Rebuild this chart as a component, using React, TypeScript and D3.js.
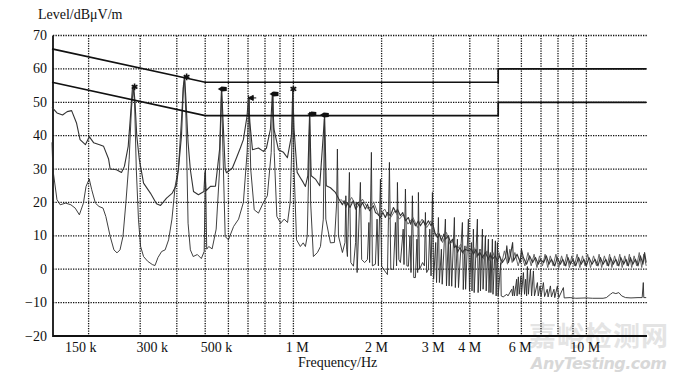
import React from "react";
import * as d3 from "d3";

// ---- data (frequency in kHz, level in dBµV/m) ----
const yTicks = [-20, -10, 0, 10, 20, 30, 40, 50, 60, 70];
const gridFreqs = [200, 300, 400, 500, 600, 700, 800, 900, 1000, 2000, 3000, 4000, 5000, 6000, 7000, 8000, 9000, 10000];
const xTickLabels = ["150 k", "300 k", "500 k", "1 M", "2 M", "3 M", "4 M", "6 M", "10 M"];
const xTickLabelAt = [188, 330, 546, 1030, 1920, 3000, 4000, 5940, 9900];

// limit lines
const limitQP: [number, number][] = [[150, 66], [500, 56], [5000, 56], [5000, 60], [16000, 60]];
const limitAV: [number, number][] = [[150, 56], [500, 46], [5000, 46], [5000, 50], [16000, 50]];

// upper (peak) trace
const traceUpper: [number, number][] = [
  [150, 48.5], [156, 46.8], [163, 46.2], [169, 47.2], [175, 47.5], [182, 43.7], [187, 38.8], [195, 37.3],
  [201, 39.7], [208, 37.9], [218, 37.3], [225, 36.8], [234, 33], [237, 30], [249, 29.8], [259, 29],
  [265, 30.8], [273, 36.8], [278, 46], [282, 54], [285, 55], [288, 50], [292, 40], [298, 32.8],
  [308, 25.8], [325, 22.8], [341, 19.6], [352, 19.1], [369, 21.3], [386, 22.8], [399, 25.3], [405, 29.8],
  [415, 40], [421, 54], [425, 58], [429, 52], [437, 38], [445, 29.8], [456, 23.3], [474, 22.3],
  [495, 23.3], [499, 29], [503, 23.5], [521, 24.8], [542, 24.9], [560, 36], [569, 54.5], [575, 45],
  [585, 30], [591, 28.9], [619, 30.3], [639, 33.3], [659, 36.3], [675, 38.8], [695, 46], [703, 52],
  [710, 44], [725, 35.8], [760, 36.3], [790, 35.3], [809, 36.3], [835, 42], [848, 53], [858, 42],
  [889, 35.8], [925, 35], [954, 33.4], [985, 40], [995, 54], [1005, 42], [1030, 29], [1056, 27.4],
  [1080, 26], [1099, 24.8], [1120, 28], [1136, 47], [1150, 28], [1189, 27], [1230, 25], [1278, 46],
  [1295, 25], [1338, 24.4], [1391, 23], [1430, 21], [1470, 19.3], [1490, 20.5], [1510, 18.5], [1529, 20],
  [1560, 18.5], [1600, 20.5], [1630, 18], [1654, 20], [1690, 18.5], [1720, 20], [1761, 18], [1790, 19.5],
  [1820, 17.5], [1875, 19], [1905, 17], [1940, 16.5], [1982, 15.5], [2020, 17], [2060, 15.5], [2094, 17],
  [2144, 16], [2195, 18.5], [2240, 17], [2265, 18], [2319, 16], [2360, 17], [2412, 14.5], [2469, 15.5],
  [2510, 13.5], [2548, 15], [2609, 13], [2671, 14.5], [2713, 13], [2780, 14.5], [2822, 13], [2889, 14.5],
  [2950, 13], [2982, 14], [3040, 11], [3101, 9.5], [3150, 10.5], [3200, 8.5], [3260, 10.5], [3302, 9],
  [3381, 10], [3435, 8], [3490, 9], [3544, 6.5], [3600, 7], [3629, 5], [3700, 6.5], [3774, 5],
  [3850, 6], [3956, 5.5], [4050, 6], [4115, 4.5], [4200, 6], [4246, 4], [4330, 5], [4417, 3.5],
  [4522, 5], [4629, 3], [4700, 4.5], [4777, 3], [4891, 4], [4969, 2.5], [5050, 4], [5168, 2],
  [5300, 3.5], [5350, 7], [5418, 2], [5500, 4], [5600, 8], [5635, 2.5], [5800, 4.5], [5950, 2],
  [6000, 6], [6095, 3.5], [6250, 1.5], [6400, 4], [6550, 2], [6700, 3.5], [6850, 1.5], [6966, 3],
  [7150, 2], [7300, 4], [7450, 1.5], [7600, 3], [7800, 1], [7950, 3.5], [8150, 1.5], [8300, 3],
  [8500, 1], [8650, 3.5], [8820, 1.5], [9000, 3], [9200, 1], [9400, 3.5], [9600, 1.5], [9800, 3],
  [10000, 1], [10200, 3.5], [10450, 1.5], [10700, 3], [10950, 1], [11160, 3.5], [11400, 1.5], [11650, 3],
  [11900, 1], [12080, 3.5], [12350, 1.5], [12600, 3], [12900, 1], [13100, 3.5], [13400, 1.5], [13650, 3],
  [13900, 1], [14130, 3.5], [14400, 1.5], [14700, 3], [15000, 1], [15290, 4], [15600, 1.5], [15800, 5],
  [16000, 2],
];

// second noise sweep of the upper band (grey hatched look above 1.4 MHz)
const traceUpperNoise: [number, number][] = [
  [1450, 21], [1520, 19], [1580, 21.5], [1650, 18.5], [1720, 21], [1800, 18], [1880, 20], [1960, 16],
  [2050, 18], [2130, 15], [2220, 17.5], [2300, 15], [2380, 16.5], [2460, 13.5], [2560, 15.5], [2650, 12.5],
  [2750, 15], [2850, 12.5], [2950, 14.5], [3050, 10], [3130, 11], [3230, 8], [3330, 11], [3420, 7.5],
  [3520, 8.5], [3620, 6], [3730, 7.5], [3820, 4.5], [3920, 7], [4020, 4.5], [4130, 6.5], [4230, 3.5],
  [4360, 6], [4470, 3], [4580, 5.5], [4680, 2.5], [4800, 5], [4920, 2], [5030, 5], [5130, 1.5],
  [5250, 5.5], [5380, 1.5], [5480, 6], [5580, 2], [5700, 5], [5850, 1], [6000, 4.5], [6170, 1],
  [6320, 5], [6480, 1], [6630, 4.5], [6780, 0.5], [6920, 4], [7080, 1], [7230, 4.5], [7380, 0.5],
  [7530, 4], [7700, 1], [7870, 4.5], [8050, 0.5], [8230, 4], [8400, 1], [8580, 4.5], [8750, 0.5],
  [8920, 4], [9100, 1], [9300, 4.5], [9500, 0.5], [9700, 4], [9900, 1], [10100, 4.5], [10330, 0.5],
  [10580, 4], [10830, 1], [11050, 4.5], [11280, 0.5], [11520, 4], [11780, 1], [12000, 4.5], [12220, 0.5],
  [12480, 4], [12750, 1], [13000, 4.5], [13250, 0.5], [13520, 4], [13780, 1], [14020, 4.5], [14280, 0.5],
  [14550, 4], [14850, 1], [15150, 5], [15450, 0.5], [15700, 4.5], [16000, 1],
];

// lower trace
const traceLower: [number, number][] = [
  [150, 38], [151, 30], [156, 20.8], [160, 19.3], [167, 19.8], [174, 19.3], [180, 18.3], [186, 16.3],
  [192, 19.8], [196, 24.8], [201, 27], [205, 23.8], [211, 19.8], [217, 18.8], [224, 18.3], [229, 15.8],
  [237, 9.8], [244, 5.8], [250, 4.9], [256, 5.8], [262, 9.8], [268, 19.8], [275, 32.8], [280, 48],
  [284, 54], [287, 50], [291, 29.8], [296, 14.8], [301, 6.8], [308, 3.8], [318, 2.4], [330, 1.4],
  [337, 1.1], [345, 3.5], [355, 5.3], [365, 5.8], [375, 8.8], [385, 15], [395, 25], [405, 30],
  [415, 45], [421, 55], [425, 57], [430, 45], [437, 13.8], [445, 5.8], [455, 3.8], [470, 4.4],
  [485, 3.2], [496, 5.3], [501, 30], [506, 6], [514, 6.8], [528, 6.1], [545, 12], [560, 30],
  [568, 54], [575, 35], [585, 9.8], [600, 8.8], [625, 12.8], [650, 15], [675, 20], [695, 35],
  [706, 51], [715, 30], [735, 17.8], [760, 16.8], [790, 20], [815, 22], [840, 35], [851, 52],
  [860, 35], [878, 15.8], [905, 13.8], [930, 15], [955, 14], [975, 20], [990, 40], [996, 53],
  [1005, 30], [1025, 8.8], [1056, 6.8], [1080, 7.9], [1099, 6.8], [1115, 10], [1128, 30], [1136, 46],
  [1145, 20], [1170, 3.8], [1208, 5], [1237, 6.8], [1265, 15], [1276, 45], [1290, 15], [1338, 7.9],
  [1380, 8], [1405, 20], [1413, 36], [1425, 10], [1470, 5], [1500, 8], [1510, 22], [1520, 6],
  [1529, 3.8], [1553, 29], [1570, 2], [1603, 0.9], [1630, 8], [1640, 20], [1650, -1], [1693, 26],
  [1710, 2.9], [1750, 2], [1789, 2.9], [1810, 14], [1820, 2], [1846, 35], [1860, 1], [1905, 1.5],
  [1930, 15], [1950, 1], [1982, 27], [2000, 0.9], [2050, -0.5], [2094, -1.6], [2127, 32], [2150, 0],
  [2195, 0], [2230, 14], [2250, 1], [2265, 26], [2290, 2.9], [2319, 2], [2370, 12], [2385, 1.4],
  [2412, 24], [2440, 1], [2469, 0.9], [2500, 10], [2520, -1], [2548, 22], [2575, -2.5], [2609, -2.5],
  [2640, 9], [2655, -1], [2671, 23], [2695, 0], [2760, 2], [2800, 1], [2822, 17], [2850, -1],
  [2889, 0], [2920, 12], [2950, -2], [2982, 23], [3010, -3], [3060, 8], [3080, -4], [3126, 15.5],
  [3150, -4], [3200, 6], [3220, -4.5], [3302, 15], [3330, -5], [3381, 10], [3400, -5], [3435, 8],
  [3470, -5.1], [3544, 15.5], [3570, -5.5], [3629, 9], [3660, -5.5], [3774, 14], [3800, -6.1], [3850, 7],
  [3870, -6], [3956, 15], [3990, -6.5], [4050, 8], [4070, -6.5], [4115, 12], [4140, -7], [4246, 15],
  [4270, -7], [4330, 6], [4350, -6.5], [4417, 12], [4440, -6], [4522, 10], [4550, -6.5], [4629, 9],
  [4650, -7], [4700, 5], [4720, -7], [4777, 9], [4800, -7.5], [4891, 8.5], [4920, -8], [4969, 8],
  [5000, -8], [5100, 2], [5120, -8], [5200, -8.3], [5350, -7.5], [5400, -8], [5560, -6], [5600, -8],
  [5635, -5], [5680, -8], [5780, -3], [5800, -8], [5860, -2.3], [5900, -7.5], [5980, -2], [6000, -7.8],
  [6095, -1], [6150, -7.5], [6200, -3], [6250, -8], [6290, 0.8], [6340, -7.5], [6442, 0], [6500, -8],
  [6594, -0.5], [6650, -8], [6805, -4], [6850, -8], [6950, -5], [7000, -8.2], [7133, -4], [7200, -8.2],
  [7350, -6], [7400, -8.3], [7537, -5], [7600, -8.3], [7750, -6], [7800, -8.5], [7962, -5], [8050, -8.5],
  [8347, -5.5], [8400, -8.6], [8800, -8.5], [9200, -8.7], [10000, -8.6], [10500, -8.7], [11400, -8.7], [11700, -8.5],
  [12080, -7.5], [12300, -7], [12600, -7.3], [12900, -7], [13200, -8], [13600, -8.5], [14200, -8.6], [15000, -8.5],
  [15500, -8.5], [15640, -4], [15700, -8.5], [16000, -8.5],
];

// peak markers
const markerFreqs = [287, 432, 574, 718, 862, 1000, 1160, 1280];
const markerLevels = [54.6, 57.6, 54, 51.3, 52.5, 54, 46.5, 46.2];
const markerTypes = ["star", "star", "flag", "arrow", "flag", "star", "flag", "flag"];

const W = 680;
const H = 381;

export default function App() {
  const x = d3.scaleLog().domain([150, 16000]).range([52, 646.2]);
  const y = d3.scaleLinear().domain([-20, 70]).range([336, 35.5]);
  const line = d3.line<[number, number]>().x((d) => x(d[0])).y((d) => y(d[1]));
  const left = x(150) + 1;
  const right = 647;
  const serif = "'Liberation Serif', 'Times New Roman', serif";

  const marker = (t: string, f: number, v: number, i: number) => {
    const cx = x(f);
    const cy = y(v);
    if (t === "star") {
      const p = d3.symbol().type(d3.symbolAsterisk).size(30)();
      return <path key={i} d={p || ""} transform={`translate(${cx},${cy})`} stroke="#111" strokeWidth={1.6} fill="none" />;
    }
    if (t === "arrow") {
      return <path key={i} d={`M${cx - 3},${cy} L${cx + 2},${cy - 2.5} L${cx + 2},${cy + 2.5} Z M${cx},${cy} L${cx + 5},${cy}`} fill="#111" stroke="#111" strokeWidth={1} />;
    }
    return <path key={i} d={`M${cx - 5},${cy} L${cx - 1},${cy - 2.5} L${cx + 4},${cy - 2} L${cx + 4},${cy + 2} L${cx - 1},${cy + 2.5} Z`} fill="#111" />;
  };

  return (
    <svg width={W} height={H} style={{ position: "absolute", left: 0, top: 0, display: "block", background: "#fff" }}>
      <rect width={W} height={H} fill="#fff" />
      {/* watermark */}
      <text x={529} y={346} fontFamily="'Noto Sans CJK SC', sans-serif" fontSize={27} fontWeight={700} fill="#e4e4e4" textLength={139}>嘉峪检测网</text>
      <text x={531} y={369} fontFamily="'DejaVu Sans', sans-serif" fontSize={16} fontStyle="italic" fontWeight={700} fill="#d8d8d8" textLength={136}>AnyTesting.com</text>

      {/* horizontal grid */}
      {yTicks.map((t) => (
        <line key={"h" + t} x1={left} x2={right} y1={y(t)} y2={y(t)} stroke="#111" strokeWidth={1.3} strokeDasharray="1.3,1.2" />
      ))}
      {/* vertical grid */}
      {gridFreqs.map((f) => (
        <line key={"v" + f} x1={x(f)} x2={x(f)} y1={y(70)} y2={y(-20)} stroke="#111" strokeWidth={1.3} strokeDasharray="1.3,1.2" />
      ))}
      {/* axes */}
      <line x1={left} x2={left} y1={y(70)} y2={y(-20) + 1} stroke="#111" strokeWidth={1.8} />
      <line x1={left} x2={right} y1={y(-20)} y2={y(-20)} stroke="#111" strokeWidth={1.8} />

      {/* traces */}
      <path d={line(traceLower) || ""} fill="none" stroke="#2a2a2a" strokeWidth={0.9} strokeLinejoin="round" />
      <path d={line(traceUpperNoise) || ""} fill="none" stroke="#666" strokeWidth={1} strokeLinejoin="round" />
      <path d={line(traceUpper) || ""} fill="none" stroke="#333" strokeWidth={1.1} strokeLinejoin="round" />

      {/* limit lines */}
      <path d={line(limitQP) || ""} fill="none" stroke="#111" strokeWidth={1.7} />
      <path d={line(limitAV) || ""} fill="none" stroke="#111" strokeWidth={1.7} />

      {/* markers */}
      {markerFreqs.map((f, i) => marker(markerTypes[i], f, markerLevels[i], i))}

      {/* y tick labels */}
      {yTicks.map((t) => (
        <text key={"yl" + t} x={47} y={y(t) + 4.5} textAnchor="end" fontFamily={serif} fontSize={14} fill="#111">
          {t < 0 ? "\u2212" + Math.abs(t) : String(t)}
        </text>
      ))}
      {/* x tick labels */}
      {xTickLabels.map((l, i) => (
        <text key={"xl" + l} x={x(xTickLabelAt[i])} y={352} textAnchor="middle" fontFamily={serif} fontSize={14} fill="#111">
          {l}
        </text>
      ))}
      <text x={38} y={19} fontFamily={serif} fontSize={14} fill="#111">Level/dBμV/m</text>
      <text x={298} y={367} fontFamily={serif} fontSize={14} fill="#111">Frequency/Hz</text>
    </svg>
  );
}
